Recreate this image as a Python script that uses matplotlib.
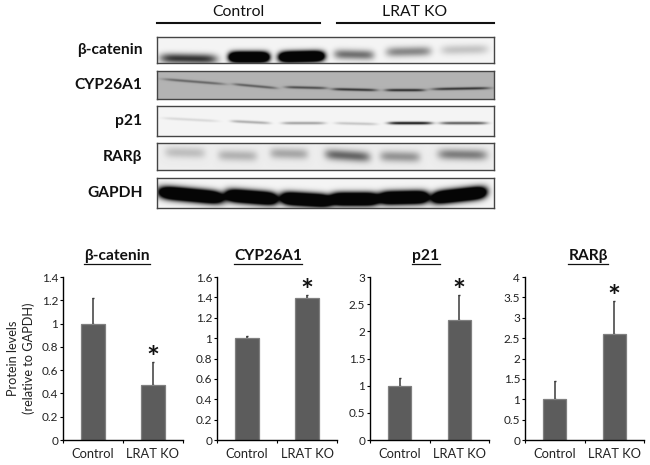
import numpy as np
import matplotlib
matplotlib.use("Agg")
import matplotlib.pyplot as plt
from matplotlib.lines import Line2D

plt.rcParams['font.family'] = ['Lato', 'Open Sans', 'DejaVu Sans']

W, H = 650, 465

# bar values
groups = ["Control", "LRAT KO"]
panel_titles = ["β-catenin", "CYP26A1", "p21", "RARβ"]
catenin_vals = [1.0, 0.47]
catenin_tops = [1.22, 0.67]
cyp_vals = [1.0, 1.39]
cyp_tops = [1.02, 1.42]
p21_vals = [1.0, 2.2]
p21_tops = [1.14, 2.67]
rar_vals = [1.0, 2.6]
rar_tops = [1.46, 3.41]
catenin_ticks = [0, 0.2, 0.4, 0.6, 0.8, 1, 1.2, 1.4]
cyp_ticks = [0, 0.2, 0.4, 0.6, 0.8, 1, 1.2, 1.4, 1.6]
p21_ticks = [0, 0.5, 1, 1.5, 2, 2.5, 3]
rar_ticks = [0, 0.5, 1, 1.5, 2, 2.5, 3, 3.5, 4]

# blot rows: band darkness per lane
blot_names = ["β-catenin", "CYP26A1", "p21", "RARβ", "GAPDH"]
catenin_dark = [0.8, 1.0, 1.0, 0.55, 0.45, 0.2]
cyp_dark = [0.45, 0.5, 0.6, 0.75, 0.8, 0.75]
p21_dark = [0.12, 0.3, 0.35, 0.2, 0.95, 0.65]
rar_dark = [0.2, 0.25, 0.3, 0.58, 0.38, 0.48]
gapdh_dark = [1.0, 1.0, 1.0, 1.0, 1.0, 1.0]
catenin_lanes = [(160, 217), (229, 269), (279, 324), (334, 374), (386, 431), (441, 488)]
cyp_lanes = [(163, 225), (233, 277), (285, 327), (332, 377), (385, 425), (432, 490)]
p21_lanes = [(163, 218), (231, 270), (282, 325), (335, 377), (388, 432), (440, 487)]
rar_lanes = [(165, 205), (218, 257), (270, 308), (325, 370), (380, 420), (438, 487)]
gapdh_lanes = [(159, 223), (226, 277), (281, 331), (331, 378), (379, 428), (432, 486)]
# band centre at left and right end of each lane, in pixels from the top
catenin_y = [(58, 59), (57, 57), (57, 56), (54, 55), (52, 51), (50, 49)]
cyp_y = [(79, 84), (84, 88), (87, 88), (89, 90), (90, 90), (89, 88)]
p21_y = [(118, 121), (121, 123), (123, 123), (123, 124), (123, 123), (123, 123)]
rar_y = [(152, 153), (155, 156), (153, 154), (154, 157), (156, 157), (154, 155)]
gapdh_y = [(192, 198), (195, 199), (198, 201), (199, 199), (198, 197), (198, 192)]
blot_boxes = [(37, 63), (71, 99), (106, 136), (143, 170), (178, 208)]
blot_bg = [0.96, 0.70, 0.96, 0.93, 0.96]
blot_thick = [5.0, 1.3, 1.4, 5.5, 6.0]
title_x = [117, 268, 426, 588]


def px_axes(x0, y0, x1, y1):
    return fig.add_axes([x0 / W, 1 - y1 / H, (x1 - x0) / W, (y1 - y0) / H])


def draw_blot(box, bg, thick, lanes, ys, darks):
    top, bottom = box
    left, right = 157, 494
    xx, yy = np.meshgrid(np.arange(left, right, 0.25), np.arange(top, bottom, 0.25))
    img = np.zeros_like(xx)
    for (a, b), (ya, yb), d in zip(lanes, ys, darks):
        mid = (a + b) / 2
        half = (b - a) / 2
        across = np.exp(-np.abs((xx - mid) / half) ** 6)
        centre = ya + (yb - ya) * (xx - a) / (b - a)
        # strong bands saturate so they go flat and black
        gain = 2.5 if d == 1.0 else 1.0
        along = np.exp(-((yy - centre) / thick) ** 2)
        img = img + d * gain * across * along
    img = bg * (1 - np.clip(img, 0, 1)) + 0.02 * np.clip(img, 0, 1)
    ax = px_axes(left, top, right, bottom)
    ax.imshow(img, cmap="gray", vmin=0, vmax=1, aspect="auto", interpolation="bilinear")
    ax.set_xticks([])
    ax.set_yticks([])
    for s in ax.spines.values():
        s.set_color("#444444")
        s.set_linewidth(1.0)
    return ax


fig = plt.figure(figsize=(W / 100, H / 100), dpi=100)

lanes_all = [catenin_lanes, cyp_lanes, p21_lanes, rar_lanes, gapdh_lanes]
ys_all = [catenin_y, cyp_y, p21_y, rar_y, gapdh_y]
darks_all = [catenin_dark, cyp_dark, p21_dark, rar_dark, gapdh_dark]
for i in range(5):
    draw_blot(blot_boxes[i], blot_bg[i], blot_thick[i], lanes_all[i], ys_all[i], darks_all[i])
    mid = sum(blot_boxes[i]) / 2
    fig.text(142.5 / W, 1 - mid / H, blot_names[i], ha="right", va="center",
             fontsize=11.2, fontweight="bold", color="#111111")

# group headers over the blots
fig.text(238 / W, 1 - 12 / H, groups[0], ha="center", va="center", fontsize=11.3, color="#111111")
fig.text(415 / W, 1 - 12 / H, groups[1], ha="center", va="center", fontsize=11.3, color="#111111")
fig.add_artist(Line2D([157 / W, 320 / W], [1 - 23.5 / H] * 2, color="#111111", lw=1.5))
fig.add_artist(Line2D([337 / W, 494 / W], [1 - 23.5 / H] * 2, color="#111111", lw=1.5))

panels = [
    (63, 183, catenin_vals, catenin_tops, catenin_ticks),
    (217, 337, cyp_vals, cyp_tops, cyp_ticks),
    (370, 489, p21_vals, p21_tops, p21_ticks),
    (525, 644, rar_vals, rar_tops, rar_ticks),
]

fig.canvas.draw()
rend = fig.canvas.get_renderer()

for i, (x0, x1, vals, tops, ticks) in enumerate(panels):
    ax = px_axes(x0, 277, x1, 440)
    xs = np.arange(len(vals)) + 0.5
    upper = np.array(tops) - np.array(vals)
    ax.bar(xs, vals, width=0.39, color="#5c5c5c", edgecolor="#808080", linewidth=0.9, zorder=2)
    ax.errorbar(xs, vals, yerr=[np.zeros(2), upper], fmt="none", ecolor="#3a3a3a",
                elinewidth=1.1, capsize=1, capthick=1, zorder=1)
    ax.set_xlim(0, 2)
    ax.set_ylim(0, ticks[-1])
    ax.set_yticks(ticks)
    ax.set_yticklabels([f"{t:g}" for t in ticks])
    ax.set_xticks(xs)
    ax.set_xticklabels(groups)
    ax.set_xticks([0, 1, 2], minor=True)
    ax.tick_params(axis="x", which="major", length=0, labelsize=9.3, pad=6, labelcolor="#222222")
    ax.tick_params(axis="x", which="minor", length=2.5, width=0.8, direction="out")
    ax.tick_params(axis="y", length=2, width=0.8, labelsize=8.5, pad=1.5, labelcolor="#222222")
    for s in ("top", "right"):
        ax.spines[s].set_visible(False)
    for s in ("left", "bottom"):
        ax.spines[s].set_linewidth(1.0)
    ax.patch.set_alpha(0)
    # star above the error bar of the knockout bar
    ax.annotate("*", (xs[1], tops[1]), xytext=(0, -11), textcoords="offset pixels",
                ha="center", va="bottom", fontsize=22, fontweight="bold", color="#111111")
    # underlined panel title
    t = fig.text(title_x[i] / W, 1 - 256 / H, panel_titles[i], ha="center", va="center",
                 fontsize=11.2, fontweight="bold", color="#111111")
    bb = t.get_window_extent(rend)
    fig.add_artist(Line2D([bb.x0 / W, bb.x1 / W], [1 - 263.5 / H] * 2, color="#111111", lw=0.9))

fig.text(21 / W, 1 - 358 / H, "Protein levels\n(relative to GAPDH)", rotation=90,
         ha="center", va="center", fontsize=9.2, color="#222222", linespacing=1.35)

fig.savefig("out.png", dpi=100)
